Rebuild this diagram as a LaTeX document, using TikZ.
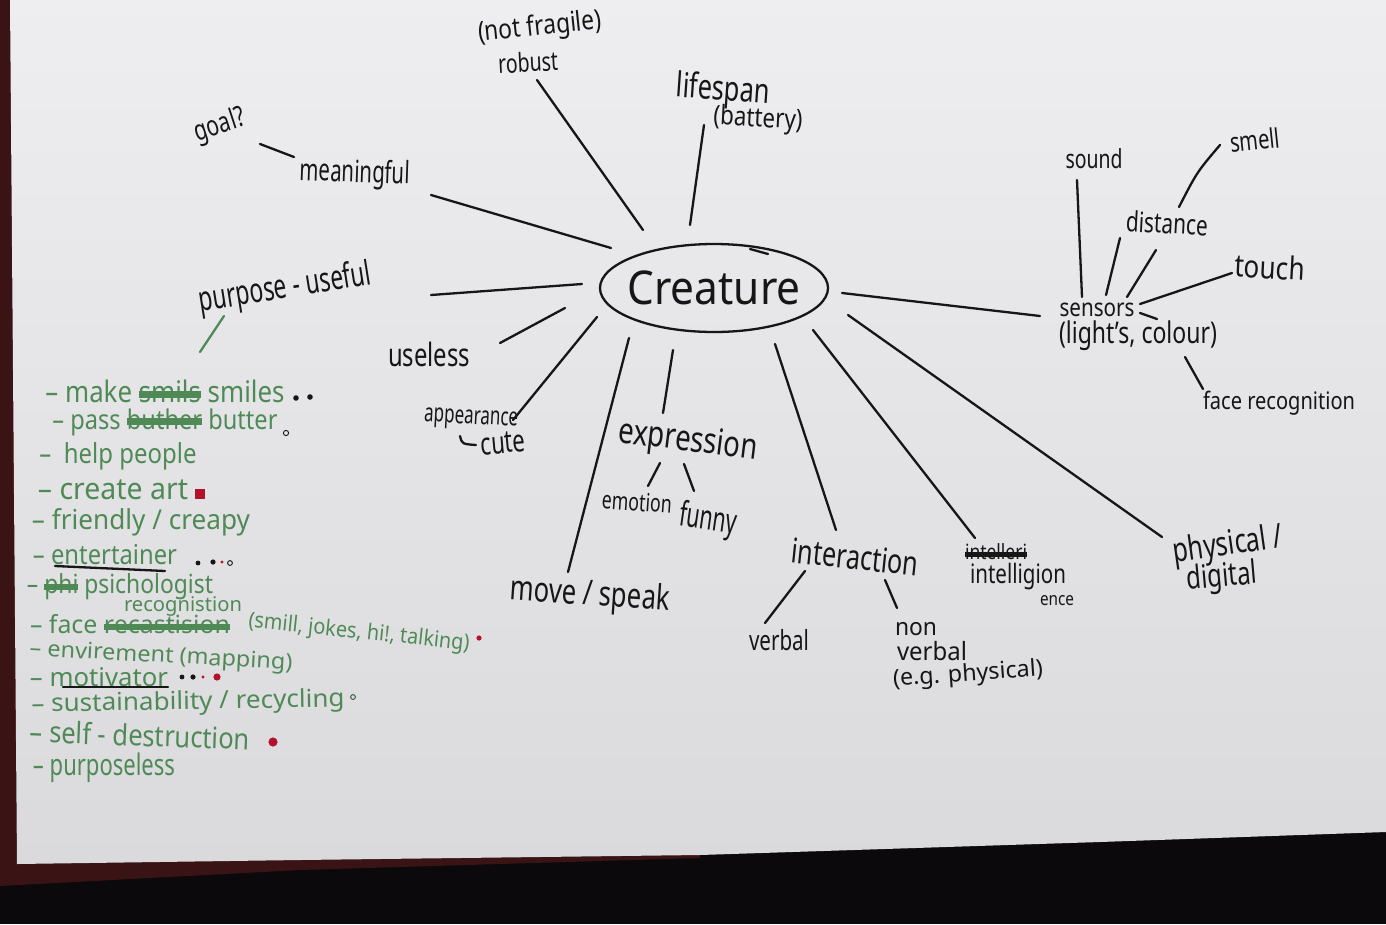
\documentclass[tikz,border=0pt]{standalone}
\usepackage{fontspec}
\setmainfont{Noto Sans}
\usepackage{graphicx}
\usetikzlibrary{shapes.geometric}
\definecolor{ink}{HTML}{161616}
\definecolor{gink}{HTML}{4F8A56}
\definecolor{rdot}{HTML}{B3122E}
\definecolor{paperT}{HTML}{EEEEF0}
\definecolor{paperB}{HTML}{DADADD}
\definecolor{brownedge}{HTML}{3A1315}
\definecolor{floorc}{HTML}{0B090B}
\newsavebox\strkbox
\newcommand\strk[1]{\sbox\strkbox{#1}\rlap{\rule[0.28ex]{\wd\strkbox}{0.45ex}}\usebox\strkbox}
\newcommand\W[3][1.35]{\resizebox{#2pt}{!}{\scalebox{1}[#1]{#3}}}
\newcommand\G[3][1.15]{\resizebox{#2pt}{!}{\scalebox{1}[#1]{#3}}}
\begin{document}
\begin{tikzpicture}[x=1pt,y=-1pt,
  lbl/.style={inner sep=0pt, text=ink},
  glbl/.style={inner sep=0pt, text=gink},
  stroke/.style={draw=ink, line width=2.3pt, line cap=round},
  gstroke/.style={draw=gink, line width=2.3pt, line cap=round},
  bdot/.style={fill=ink},
  rd/.style={fill=rdot},
  odot/.style={draw=ink, line width=0.9pt}]
\useasboundingbox (0,0) rectangle (1386,924);
% background
\fill[floorc] (0,0) rectangle (1386,924);
\fill[brownedge] (0,0) -- (11,0) -- (17,862) -- (300,859) -- (700,854) -- (700,858) -- (300,870) -- (0,886) -- cycle;
\shade[top color=paperT, bottom color=paperB] (10,0) -- (1386,0) -- (1386,832) -- (1100,842) -- (700,855) -- (300,860) -- (17,864) -- cycle;

% central node
\node[lbl] (creature) at (714,288) {\W[1.1]{173}{Creature}};
\draw[ink, line width=2.3pt] (creature.center) ellipse [x radius=114, y radius=44];
\coordinate (ovA) at (750,249); \coordinate (ovB) at (768,254);
\draw[stroke] (ovA) -- (ovB);

% black labels
\node[lbl, rotate=6] (notfragile) at (540,28) {\W[1.2]{124}{(not fragile)}};
\node[lbl, rotate=3] (robust) at (528,62) {\W{60}{robust}};
\node[lbl, rotate=-4] (lifespan) at (723,91) {\W{94}{lifespan}};
\node[lbl, rotate=-3] (battery) at (758,120) {\W[1.2]{89}{(battery)}};
\node[lbl, rotate=18] (goal) at (220,126) {\W{52}{goal?}};
\node[lbl, rotate=-2] (meaningful) at (355,174) {\W[1.5]{110}{meaningful}};
\node[lbl, rotate=9] (purpose) at (285,289) {\W[1.5]{174}{purpose - useful}};
\node[lbl] (useless) at (429,354) {\W{82}{useless}};
\node[lbl, rotate=-3] (appearance) at (471,420) {\W[1.5]{94}{appearance}};
\node[lbl, rotate=5] (cute) at (503,443) {\W[1.4]{45}{cute}};
\node[lbl, rotate=-7] (expression) at (688,442) {\W[1.3]{140}{expression}};
\node[lbl, rotate=-4] (emotion) at (637,502) {\W[1.4]{70}{emotion}};
\node[lbl, rotate=-8] (funny) at (708,521) {\W[1.6]{58}{funny}};
\node[lbl, rotate=-4] (move) at (590,596) {\W{160}{move / speak}};
\node[lbl, rotate=-6] (interaction) at (855,557) {\W{128}{interaction}};
\node[lbl] (verbal) at (779,640) {\W{60}{verbal}};
\node[lbl] (non) at (916,629) {\W[1.05]{42}{non}};
\node[lbl] (nverbal) at (932,651) {\W[1.05]{70}{verbal}};
\node[lbl, rotate=4] (eg) at (968,675) {\W[1.0]{150}{(e.g. physical)}};
\node[lbl] (intelli) at (996,552) {\W[1.2]{62}{\strk{intelleri}}};
\node[lbl] (intelligion) at (1018,577) {\W[1.3]{96}{intelligion}};
\node[lbl] (ence) at (1057,601) {\W[1.2]{34}{ence}};
\node[lbl, rotate=8] (physical) at (1228,546) {\W{110}{physical /}};
\node[lbl, rotate=5] (digital) at (1222,578) {\W{70}{digital}};
\node[lbl] (sensors) at (1097,310) {\W[1.2]{75}{sensors}};
\node[lbl] (lights) at (1138,336) {\W[1.3]{158}{(light's, colour)}};
\node[lbl] (sound) at (1094,159) {\W{57}{sound}};
\node[lbl, rotate=6] (smell) at (1255,140) {\W{50}{smell}};
\node[lbl, rotate=-3] (distance) at (1167,223) {\W{82}{distance}};
\node[lbl, rotate=-3] (touch) at (1270,267) {\W[1.2]{70}{touch}};
\node[lbl] (facerec) at (1279,403) {\W[1.2]{152}{face recognition}};

% spoke end points
\coordinate (m1) at (431,195); \coordinate (m2) at (611,248);
\coordinate (r1) at (537,80);  \coordinate (r2) at (643,230);
\coordinate (l1) at (704,125); \coordinate (l2) at (690,225);
\coordinate (u1) at (431,295); \coordinate (u2) at (582,284);
\coordinate (s1) at (500,343); \coordinate (s2) at (565,308);
\coordinate (a1) at (513,420); \coordinate (a2) at (597,317);
\coordinate (mv1) at (568,572); \coordinate (mv2) at (629,338);
\coordinate (e1) at (663,413); \coordinate (e2) at (673,350);
\coordinate (i1) at (836,530); \coordinate (i2) at (775,344);
\coordinate (t1) at (975,538); \coordinate (t2) at (813,330);
\coordinate (p1) at (1162,537); \coordinate (p2) at (848,315);
\coordinate (n1) at (1040,316); \coordinate (n2) at (842,293);
\draw[stroke] (m1) -- (m2);
\draw[stroke] (r1) -- (r2);
\draw[stroke] (l1) -- (l2);
\draw[stroke] (u1) -- (u2);
\draw[stroke] (s1) -- (s2);
\draw[stroke] (a1) -- (a2);
\draw[stroke] (mv1) -- (mv2);
\draw[stroke] (e1) -- (e2);
\draw[stroke] (i1) -- (i2);
\draw[stroke] (t1) -- (t2);
\draw[stroke] (p1) -- (p2);
\draw[stroke] (n1) -- (n2);

% secondary strokes
\coordinate (g1) at (260,144); \coordinate (g2) at (294,157);
\draw[stroke] (g1) -- (g2);
\coordinate (ex1) at (660,463); \coordinate (ex2) at (648,486);
\coordinate (ex3) at (684,464); \coordinate (ex4) at (694,491);
\draw[stroke] (ex1) -- (ex2);
\draw[stroke] (ex3) -- (ex4);
\coordinate (in1) at (805,571); \coordinate (in2) at (765,623);
\coordinate (in3) at (885,580); \coordinate (in4) at (897,608);
\draw[stroke] (in1) -- (in2);
\draw[stroke] (in3) -- (in4);
\coordinate (hk1) at (460,436); \coordinate (hk2) at (476,445);
\draw[stroke] (hk1) .. controls (462,444) .. (hk2);
% sensors
\coordinate (sd1) at (1077,180); \coordinate (sd2) at (1082,297);
\coordinate (dl1) at (1120,238); \coordinate (dl2) at (1106,295);
\coordinate (dr1) at (1156,250); \coordinate (dr2) at (1127,297);
\coordinate (sm1) at (1220,145); \coordinate (sm2) at (1179,207);
\coordinate (to1) at (1232,273); \coordinate (to2) at (1140,304);
\coordinate (fr1) at (1185,357); \coordinate (fr2) at (1203,389);
\coordinate (tl1) at (1140,313); \coordinate (tl2) at (1157,319);
\draw[stroke] (sd1) -- (sd2);
\draw[stroke] (dl1) -- (dl2);
\draw[stroke] (dr1) -- (dr2);
\draw[stroke] (sm1) .. controls (1197,172) .. (sm2);
\draw[stroke] (to1) -- (to2);
\draw[stroke] (fr1) -- (fr2);
\draw[stroke] (tl1) -- (tl2);

% green list
\coordinate (pg1) at (224,316); \coordinate (pg2) at (200,352);
\draw[gstroke] (pg1) -- (pg2);
\node[glbl] (gl1) at (165,391) {\G{239}{– make \strk{smils} smiles}};
\node[glbl] (gl2) at (165,422) {\G{225}{– pass \strk{buther} butter}};
\node[glbl] (gl3) at (118,456) {\G{157}{–\ \ help people}};
\node[glbl] (gl4) at (113,490) {\G[1.05]{150}{– create art}};
\node[glbl] (gl5) at (141,522) {\G[1.05]{218}{– friendly / creapy}};
\node[glbl] (gl6) at (105,555) {\G{144}{– entertainer}};
\node[glbl] (gl7) at (120,587) {\G{186}{– \strk{phi} psichologist}};
\node[glbl] (gl8) at (130,624) {\G[1.0]{200}{– face \strk{recastision}}};
\node[glbl] (gl8b) at (183,606) {\G[1.0]{118}{recognistion}};
\node[glbl, rotate=-6] (gl8c) at (359,633) {\G[1.1]{222}{(smill, jokes, hi!, talking)}};
\node[glbl, rotate=-3] (gl9) at (161,657) {\G[0.95]{263}{– envirement (mapping)}};
\node[glbl] (gl10) at (99,677) {\G[1.0]{138}{– motivator}};
\node[glbl, rotate=1] (gl11) at (188,703) {\G[0.95]{313}{– sustainability / recycling}};
\node[glbl, rotate=-2] (gl12) at (140,735) {\G{220}{– self - destruction}};
\node[glbl] (gl13) at (104,768) {\G[1.35]{142}{– purposeless}};

% underlines
\coordinate (ue1) at (55,566); \coordinate (ue2) at (165,571);
\coordinate (um1) at (63,687); \coordinate (um2) at (168,687);
\draw[stroke] (ue1) -- (ue2);
\draw[stroke] (um1) -- (um2);

% dots
\fill[bdot] (296,398) circle (2.8);
\fill[bdot] (310,397) circle (2.8);
\draw[odot] (286,433) circle (2.6);
\fill[rd] (195,489) rectangle (205,499);
\fill[bdot] (198,563) circle (2.4);
\fill[bdot] (213,562) circle (2.6);
\fill[rd] (222,562) circle (1.6);
\draw[odot] (230,563) circle (2.4);
\fill[rd] (479,638) circle (2.6);
\fill[bdot] (182,677) circle (2.4);
\fill[bdot] (193,677) circle (2.6);
\fill[rd] (203,677) circle (1.7);
\fill[rd] (217,677) circle (3.6);
\draw[draw=gink!60!black, line width=0.9pt] (353,697) circle (2.4);
\fill[rd] (273,742) circle (4.6);
\end{tikzpicture}
\end{document}
